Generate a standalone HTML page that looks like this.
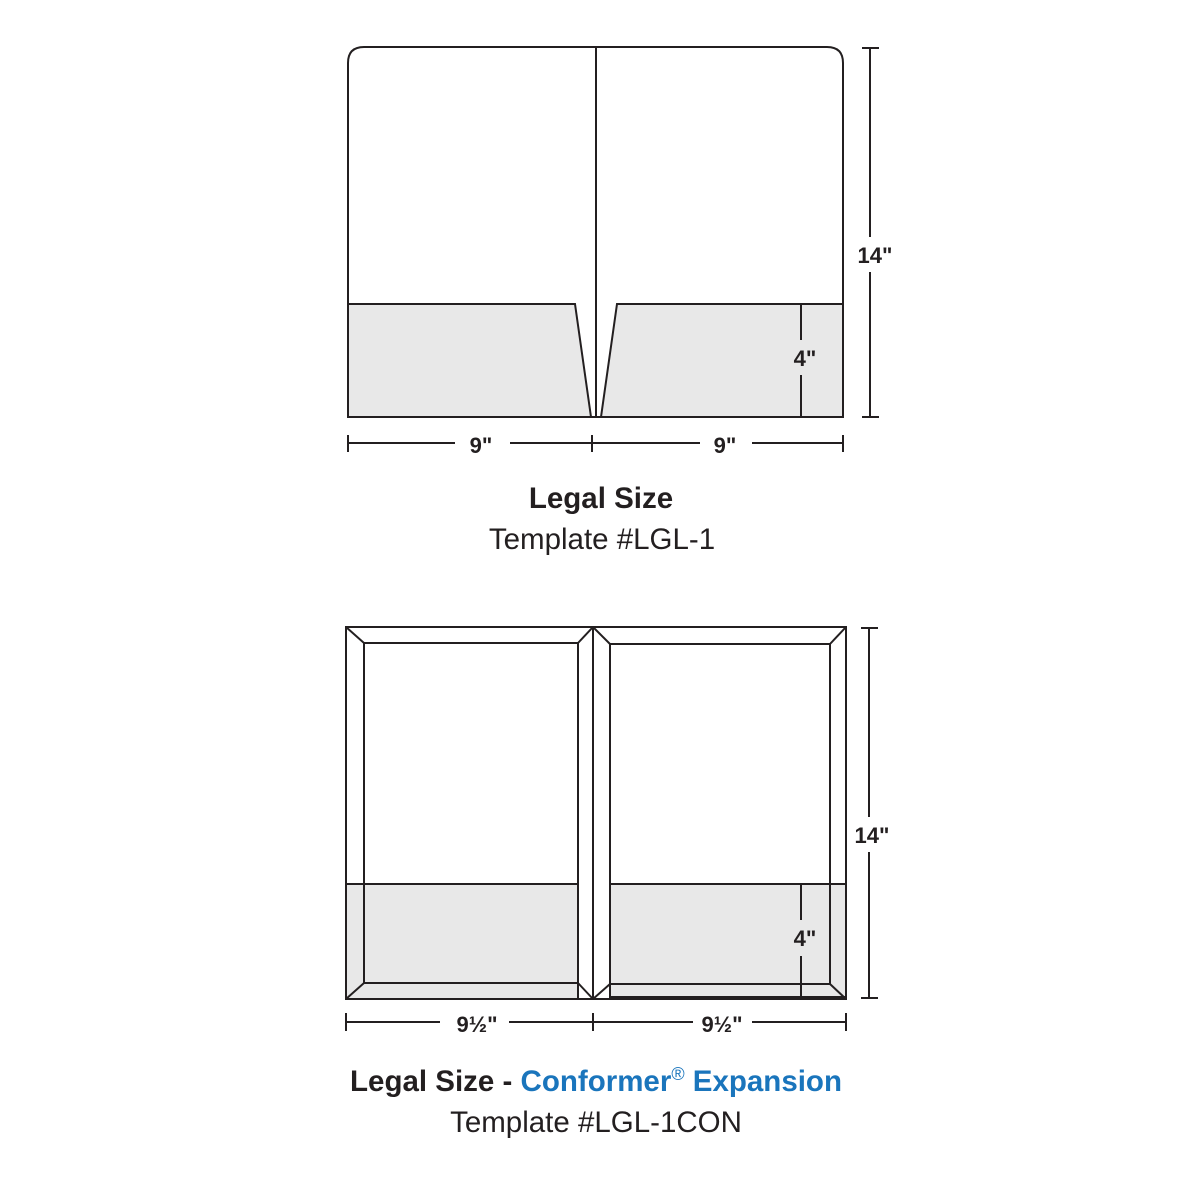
<!DOCTYPE html>
<html><head><meta charset="utf-8"><style>html,body{margin:0;padding:0;background:#fff}svg{display:block}</style></head>
<body>
<svg width="1200" height="1200" viewBox="0 0 1200 1200" xmlns="http://www.w3.org/2000/svg" font-family="Liberation Sans, sans-serif">
<rect width="1200" height="1200" fill="#fff"/>
<g stroke="#231f20" stroke-width="2" fill="none">
<path d="M348,417 V63 Q348,47 364,47 H827 Q843,47 843,63 V417 Z" fill="#fff"/>
<path d="M348,304 H575 L591,417 H348 Z" fill="#e8e8e8"/>
<path d="M843,304 H617 L601,417 H843 Z" fill="#e8e8e8"/>
<line x1="596" y1="47" x2="596" y2="417"/>
<line x1="801" y1="304" x2="801" y2="340"/>
<line x1="801" y1="375" x2="801" y2="417"/>
<line x1="870" y1="48" x2="870" y2="237"/>
<line x1="870" y1="272" x2="870" y2="417"/>
<line x1="862" y1="48" x2="879" y2="48"/>
<line x1="862" y1="417" x2="879" y2="417"/>
<line x1="348" y1="443" x2="455" y2="443"/>
<line x1="510" y1="443" x2="700" y2="443"/>
<line x1="752" y1="443" x2="843" y2="443"/>
<line x1="348" y1="435" x2="348" y2="452"/>
<line x1="592" y1="435" x2="592" y2="452"/>
<line x1="843" y1="435" x2="843" y2="452"/>
</g>
<g font-weight="bold" font-size="22" fill="#231f20" text-anchor="middle">
<text x="805" y="366">4"</text>
<text x="875" y="263">14"</text>
<text x="481" y="453">9"</text>
<text x="725" y="453">9"</text>
</g>
<text x="601" y="508" text-anchor="middle" font-size="29.5" font-weight="bold" fill="#231f20">Legal Size</text>
<text x="602" y="549" text-anchor="middle" font-size="29.5" fill="#231f20">Template #LGL-1</text>

<g stroke="#231f20" stroke-width="2" fill="none">
<rect x="346" y="627" width="500" height="372" fill="#fff"/>
<rect x="347" y="884" width="231" height="114" fill="#e8e8e8" stroke="none"/>
<rect x="610" y="884" width="235" height="114" fill="#e8e8e8" stroke="none"/>
<rect x="346" y="627" width="500" height="372"/>
<rect x="364" y="643" width="214" height="340"/>
<line x1="346" y1="627" x2="364" y2="643"/>
<line x1="346" y1="999" x2="364" y2="983"/>
<line x1="593" y1="627" x2="578" y2="643"/>
<line x1="593" y1="999" x2="578" y2="983"/>
<line x1="578" y1="983" x2="578" y2="999"/>
<line x1="346" y1="884" x2="578" y2="884"/>
<line x1="593" y1="627" x2="593" y2="999"/>
<rect x="610" y="644" width="220" height="340"/>
<line x1="593" y1="627" x2="610" y2="644"/>
<line x1="593" y1="999" x2="610" y2="984"/>
<line x1="846" y1="627" x2="830" y2="644"/>
<line x1="846" y1="999" x2="830" y2="984"/>
<line x1="610" y1="984" x2="610" y2="998"/>
<line x1="610" y1="997" x2="846" y2="997"/>
<line x1="610" y1="884" x2="846" y2="884"/>
<line x1="801" y1="884" x2="801" y2="920"/>
<line x1="801" y1="956" x2="801" y2="998"/>
<line x1="869" y1="628" x2="869" y2="817"/>
<line x1="869" y1="852" x2="869" y2="998"/>
<line x1="861" y1="628" x2="878" y2="628"/>
<line x1="861" y1="998" x2="878" y2="998"/>
<line x1="346" y1="1022" x2="440" y2="1022"/>
<line x1="509" y1="1022" x2="693" y2="1022"/>
<line x1="752" y1="1022" x2="846" y2="1022"/>
<line x1="346" y1="1013" x2="346" y2="1031"/>
<line x1="593" y1="1013" x2="593" y2="1031"/>
<line x1="846" y1="1013" x2="846" y2="1031"/>
</g>
<g font-weight="bold" font-size="22" fill="#231f20" text-anchor="middle">
<text x="805" y="946">4"</text>
<text x="872" y="843">14"</text>
<text x="477" y="1032">9½"</text>
<text x="722" y="1032">9½"</text>
</g>
<text x="596" y="1091" text-anchor="middle" font-size="29.5" font-weight="bold" fill="#231f20">Legal Size - <tspan fill="#1a75bc">Conformer<tspan font-size="18" font-weight="normal" dy="-11">®</tspan><tspan dy="11"> Expansion</tspan></tspan></text>
<text x="596" y="1132" text-anchor="middle" font-size="29.5" fill="#231f20">Template #LGL-1CON</text>
</svg>
</body></html>
